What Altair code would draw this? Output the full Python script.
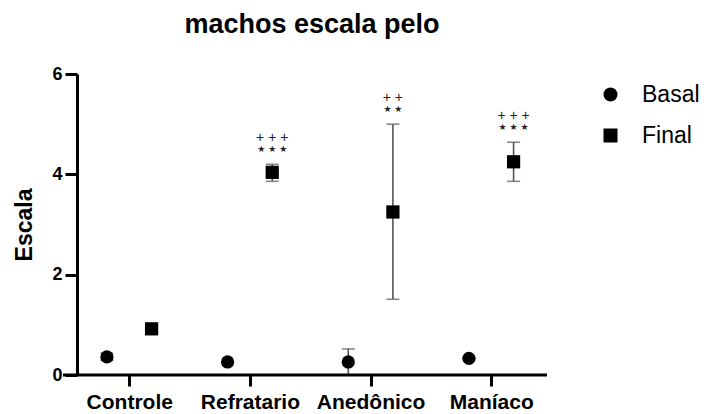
import altair as alt
import pandas as pd

categories = ["Controle", "Refratario", "Anedônico", "Maníaco"]
groups = ["Basal", "Final"]
basal_mean = [0.36, 0.26, 0.26, 0.33]
basal_low = [0.29, 0.26, 0.00, 0.33]
basal_high = [0.43, 0.26, 0.52, 0.33]
final_mean = [0.92, 4.04, 3.25, 4.25]
final_low = [0.87, 3.86, 1.51, 3.86]
final_high = [0.97, 4.20, 5.00, 4.64]
stars = ["", "★ ★ ★", "★ ★", "★ ★ ★"]
plus = ["", "+ + +", "+ +", "+ + +"]

rows = []
for i, c in enumerate(categories):
    rows.append(dict(cat=c, idx=i, group="Basal", mean=basal_mean[i], low=basal_low[i], high=basal_high[i], stars="", plus=""))
    rows.append(dict(cat=c, idx=i, group="Final", mean=final_mean[i], low=final_low[i], high=final_high[i], stars=stars[i], plus=plus[i]))
df = pd.DataFrame(rows)

FONT = "Liberation Sans"
W, H = 470, 301

label_expr = "[" + ",".join("'" + c + "'" for c in categories) + "][datum.value]"

xscale = alt.Scale(domain=[-0.433, 3.462], nice=False, zero=False)
yscale = alt.Scale(domain=[0, 6], nice=False)

base = alt.Chart(df).transform_calculate(
    xpos="datum.idx + (datum.group === 'Basal' ? -0.185 : 0.185)"
)

xenc = alt.X("xpos:Q", scale=xscale, title=None,
             axis=alt.Axis(values=[0, 1, 2, 3], labelExpr=label_expr, grid=False, domain=False,
                           tickWidth=3, tickSize=11, tickColor="black", labelFont=FONT,
                           labelFontSize=21, labelFontWeight="bold", labelColor="black",
                           labelPadding=5))
yenc = alt.Y("mean:Q", scale=yscale, title="Escala",
             axis=alt.Axis(values=[0, 2, 4, 6], grid=False, domainWidth=3, domainColor="black",
                           tickWidth=3, tickSize=12, tickColor="black", labelFont=FONT,
                           labelFontSize=18, labelFontWeight="bold", labelColor="black",
                           labelPadding=3, titleFont=FONT, titleFontSize=23, titleFontWeight="bold",
                           titleColor="black", titleX=-46, titleY=H / 2, titleBaseline="alphabetic",
                           titleAngle=270))

err = base.mark_rule(color="#555555", strokeWidth=1.6).encode(
    x=alt.X("xpos:Q", scale=xscale), y=alt.Y("low:Q", scale=yscale), y2="high:Q")
cap_hi = base.mark_tick(orient="horizontal", size=13, thickness=1.6, color="#555555").encode(
    x=alt.X("xpos:Q", scale=xscale), y=alt.Y("high:Q", scale=yscale))
cap_lo = base.mark_tick(orient="horizontal", size=13, thickness=1.6, color="#555555").encode(
    x=alt.X("xpos:Q", scale=xscale), y=alt.Y("low:Q", scale=yscale))

points = base.mark_point(filled=True, size=175, opacity=1, color="black").encode(
    x=xenc, y=yenc,
    shape=alt.Shape("group:N", scale=alt.Scale(domain=groups, range=["circle", "square"]),
                    legend=alt.Legend(title=None, orient="none", legendX=522, legendY=9,
                                      symbolSize=196, symbolFillColor="black",
                                      symbolStrokeColor="black", labelFont=FONT,
                                      labelFontSize=23, labelColor="black", labelOffset=20,
                                      rowPadding=17)))

star_text = base.transform_filter("datum.stars != ''").mark_text(
    font="DejaVu Sans", fontSize=9, color="#222222", baseline="alphabetic", dy=-12).encode(
    x=alt.X("xpos:Q", scale=xscale), y=alt.Y("high:Q", scale=yscale), text="stars:N")
plus_text = base.transform_filter("datum.plus != ''").mark_text(
    font=FONT, fontSize=14, color="#222222", baseline="alphabetic", dy=-22).encode(
    x=alt.X("xpos:Q", scale=xscale), y=alt.Y("high:Q", scale=yscale), text="plus:N")

xline = alt.Chart(pd.DataFrame({"v": [0]})).mark_rule(color="black", strokeWidth=3).encode(
    x=alt.value(-14), x2=alt.value(W), y=alt.Y("v:Q", scale=yscale))

chart = alt.layer(err, cap_hi, cap_lo, points, star_text, plus_text, xline).properties(
    width=W, height=H,
    title=alt.Title("machos escala pelo", font=FONT, fontSize=27, fontWeight="bold",
                    color="black", anchor="middle", offset=26),
    autosize=alt.AutoSizeParams(type="none"),
    padding={"left": 77, "top": 74, "right": 157, "bottom": 39},
).configure(background="white").configure_view(stroke=None)

chart.save("out.html", embed_options={"renderer": "svg", "actions": False})
